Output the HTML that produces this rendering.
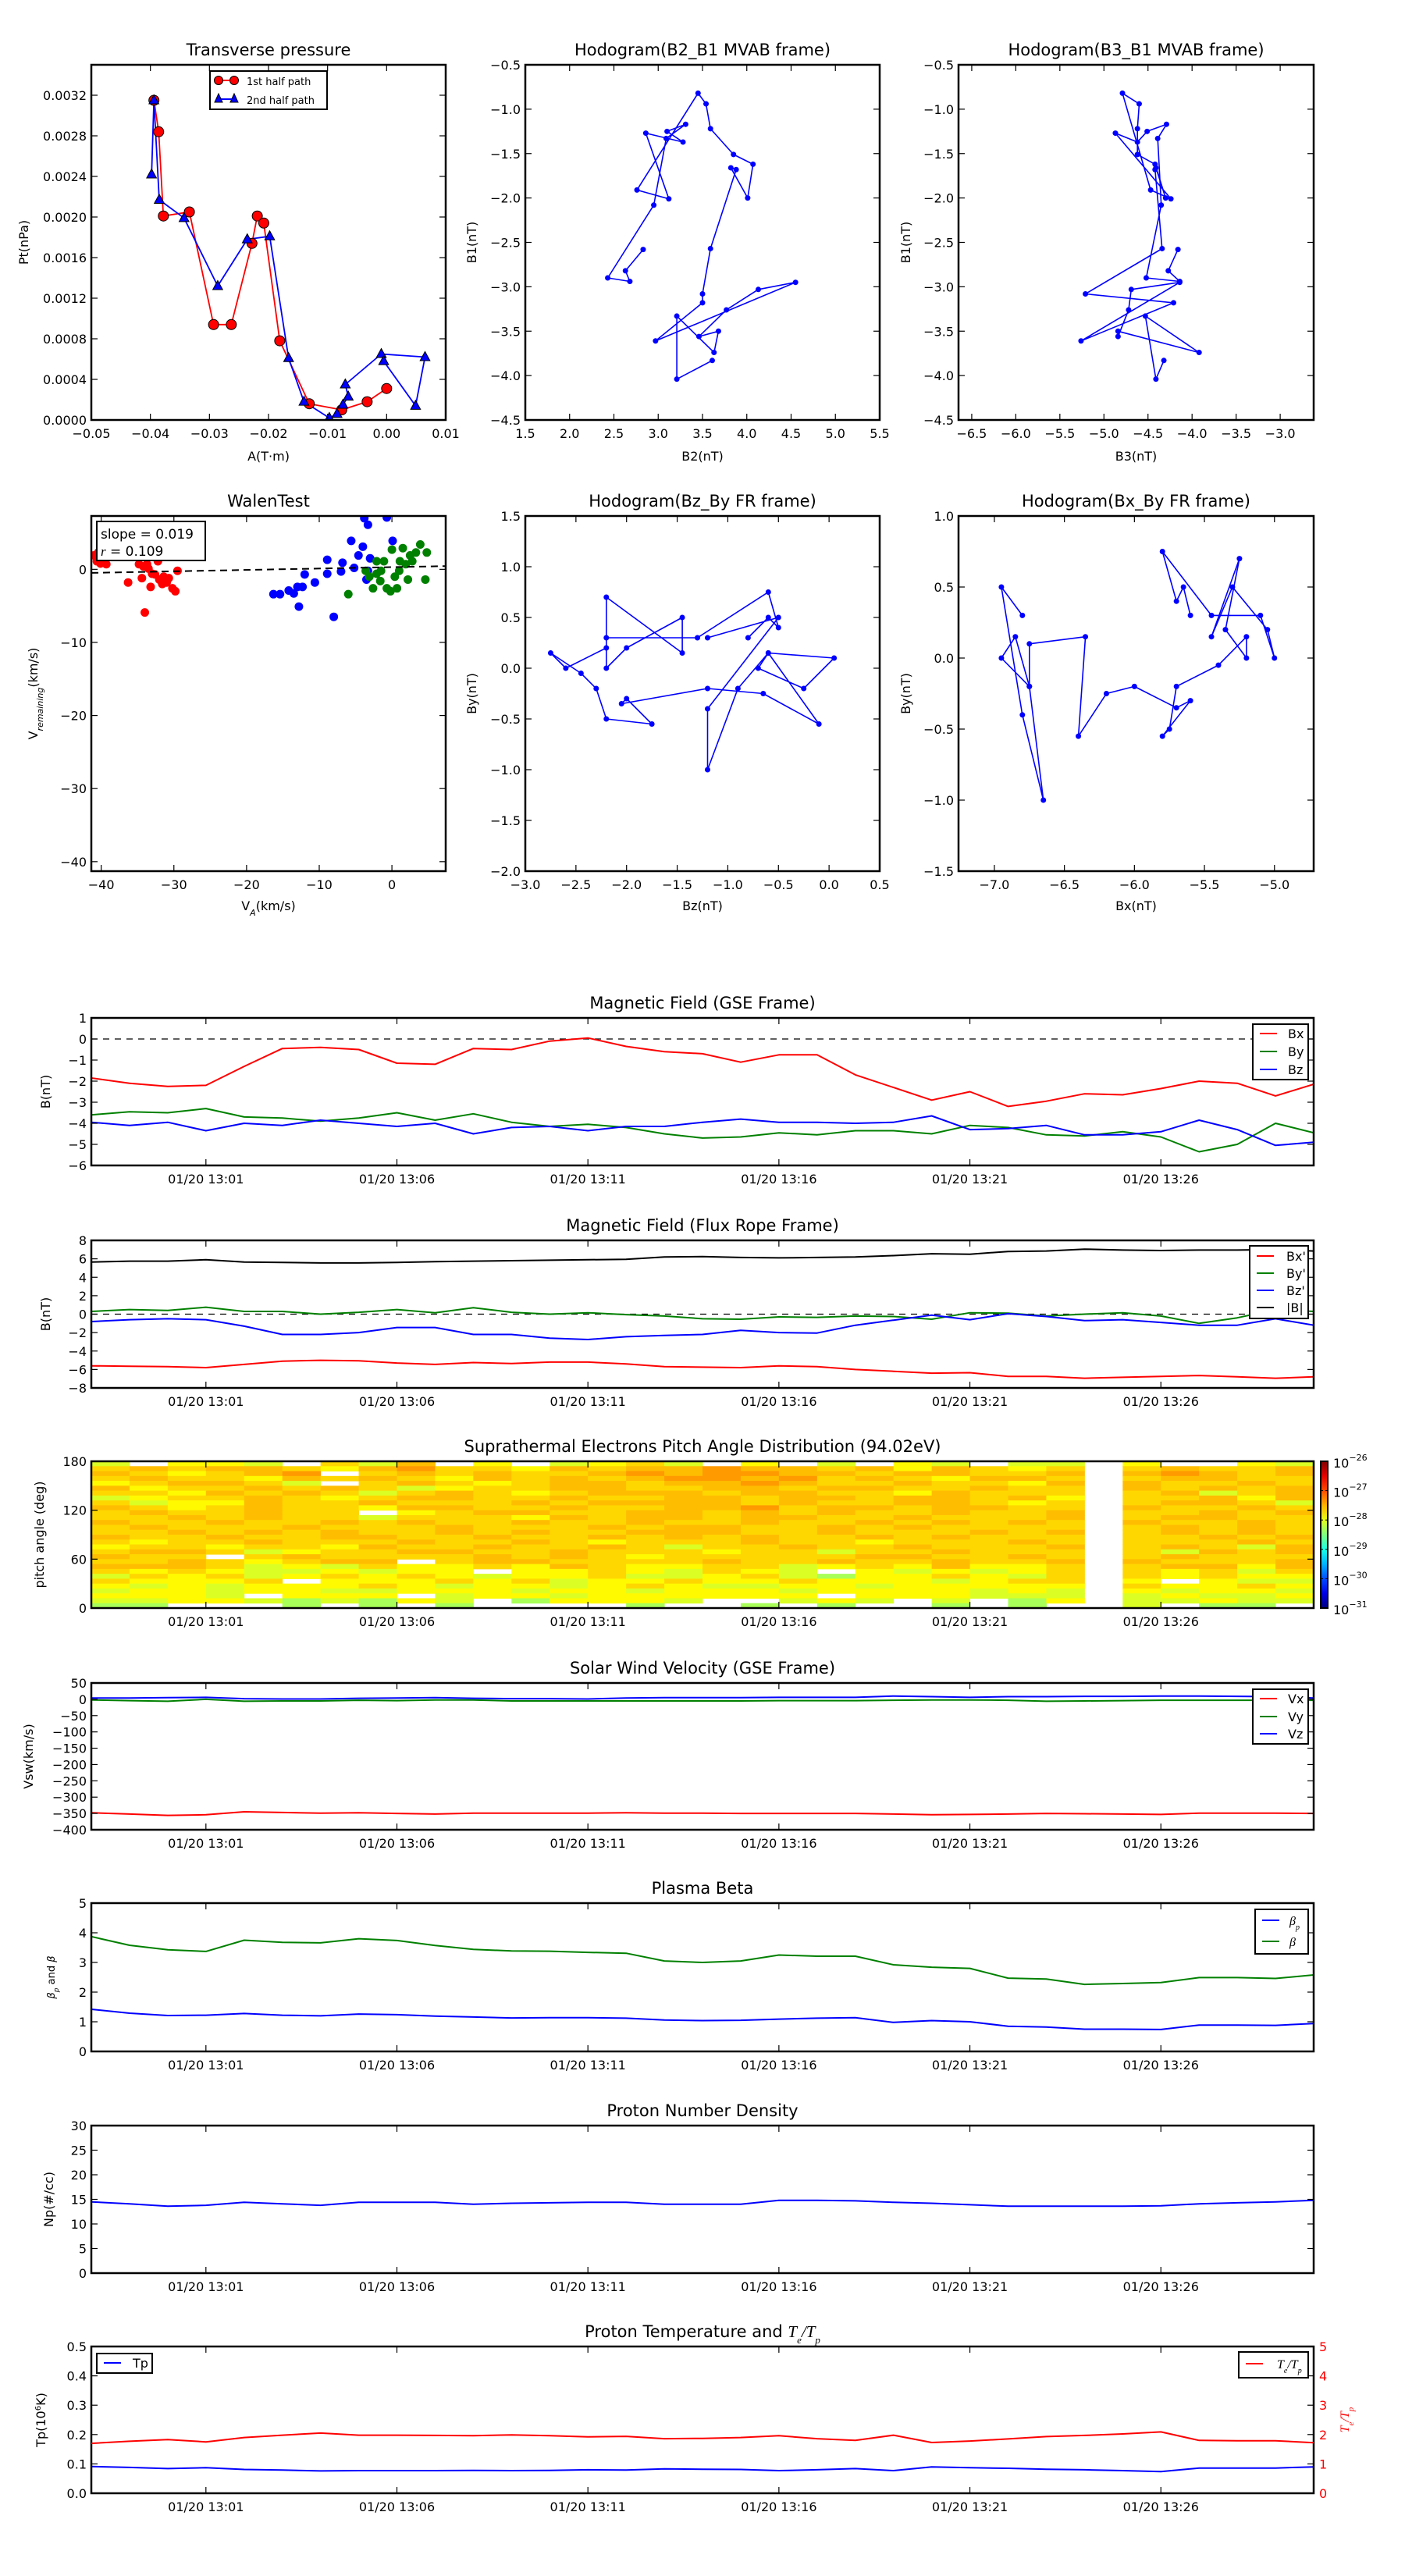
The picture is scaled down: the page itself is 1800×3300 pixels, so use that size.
<!DOCTYPE html>
<html><head><meta charset="utf-8">
<style>body{margin:0;background:#fff}svg{display:block;font-family:"DejaVu Sans","Liberation Sans",sans-serif}</style>
</head><body>
<svg id="fig" width="1800" height="3300" viewBox="0 0 1800 3300"><rect width="1800" height="3300" fill="#fff"/></svg>
<script>
// ---------- DATA ----------
const ptRedA=[-0.0394,-0.0386,-0.0378,-0.0334,-0.0293,-0.0263,-0.0228,-0.0219,-0.0208,-0.0181,-0.0131,-0.0076,-0.0033,0.0000];
const ptRedP=[0.00315,0.00284,0.00201,0.00205,0.00094,0.00094,0.00174,0.00201,0.00194,0.00078,0.00016,0.00010,0.00018,0.00031];
const ptBlueA=[-0.0398,-0.0394,-0.0385,-0.0343,-0.0286,-0.0236,-0.0198,-0.0166,-0.0140,-0.0097,-0.0084,-0.0074,-0.0065,-0.0070,-0.0009,0.0065,0.0049,-0.0005];
const ptBlueP=[0.00242,0.00315,0.00217,0.00199,0.00132,0.00178,0.00181,0.00061,0.00018,0.00002,0.00006,0.00015,0.00023,0.00035,0.00065,0.00062,0.00014,0.00058];
const mvB1=[-2.58,-2.82,-2.94,-2.90,-2.08,-1.33,-1.17,-1.25,-1.37,-1.27,-2.01,-1.91,-0.82,-0.94,-1.22,-1.51,-1.62,-2.00,-1.66,-1.68,-2.57,-3.08,-3.18,-3.61,-2.95,-3.03,-3.26,-3.56,-3.50,-3.74,-3.33,-4.04,-3.83];
const mvB2=[2.83,2.63,2.68,2.43,2.95,3.09,3.31,3.10,3.28,2.86,3.12,2.76,3.45,3.54,3.59,3.85,4.07,4.01,3.82,3.88,3.59,3.50,3.50,2.97,4.55,4.13,3.77,3.46,3.68,3.63,3.21,3.21,3.61];
const mvB3=[-4.16,-4.27,-4.14,-4.52,-4.35,-4.39,-4.29,-4.51,-4.62,-4.87,-4.24,-4.47,-4.79,-4.60,-4.62,-4.62,-4.42,-4.30,-4.41,-4.42,-4.34,-5.21,-4.21,-5.26,-4.14,-4.69,-4.72,-4.84,-4.84,-3.92,-4.53,-4.41,-4.32];
const walenRedX=[-41.0,-40.6,-40.4,-40.1,-39.3,-36.3,-34.8,-34.4,-34.2,-34.0,-33.7,-33.2,-33.0,-32.6,-32.2,-32.0,-31.6,-31.4,-31.0,-30.7,-30.2,-29.8,-29.5,-33.5];
const walenRedY=[1.9,1.1,2.3,0.8,0.7,-1.8,0.7,-1.2,0.4,-5.9,0.7,-2.4,-0.6,-0.7,1.1,-1.4,-2.0,-1.0,-1.8,-1.2,-2.6,-3.0,-0.2,0.1];
const walenBlueX=[-16.3,-15.4,-14.2,-13.5,-13.0,-12.8,-12.3,-12.0,-10.6,-8.9,-8.0,-7.0,-6.8,-5.6,-4.6,-4.0,-3.8,-3.3,-3.3,-3.0,-0.7,0.1,-8.9,-5.2,-3.5];
const walenBlueY=[-3.4,-3.4,-2.9,-3.3,-2.4,-5.1,-2.4,-0.7,-1.8,1.3,-6.5,-0.3,0.9,3.9,1.9,3.1,7.0,6.1,-0.2,1.5,7.1,3.9,-0.6,0.2,-1.4];
const walenGreenX=[-6.0,-3.6,-3.1,-2.6,-2.1,-1.6,-1.1,-0.7,-0.2,0.0,0.4,0.7,1.1,1.5,1.9,2.2,2.5,2.8,3.3,3.9,4.6,4.8,-2.1,1.0,-1.5];
const walenGreenY=[-3.4,-0.2,-1.0,-2.6,-0.6,-1.6,1.1,-2.6,-3.0,2.7,-1.0,-2.6,1.1,2.9,0.7,-1.4,1.9,1.1,2.3,3.4,-1.4,2.3,1.1,-0.2,-0.2];
const walenSlope=0.019, walenIntercept=0.3;
const timeLabels=["12:58","12:59","13:00","13:01","13:02","13:03","13:04","13:05","13:06","13:07","13:08","13:09","13:10","13:11","13:12","13:13","13:14","13:15","13:16","13:17","13:18","13:19","13:20","13:21","13:22","13:23","13:24","13:25","13:26","13:27","13:28","13:29","13:30"];
const timeTickLabels=["01/20 13:01","01/20 13:06","01/20 13:11","01/20 13:16","01/20 13:21","01/20 13:26"];
const gseBx=[-1.85,-2.1,-2.25,-2.2,-1.3,-0.45,-0.4,-0.5,-1.15,-1.2,-0.45,-0.5,-0.1,0.05,-0.35,-0.6,-0.7,-1.1,-0.75,-0.75,-1.7,-2.3,-2.9,-2.5,-3.2,-2.95,-2.6,-2.65,-2.35,-2.0,-2.1,-2.7,-2.15];
const gseBy=[-3.6,-3.45,-3.5,-3.3,-3.7,-3.75,-3.9,-3.75,-3.5,-3.85,-3.55,-3.95,-4.15,-4.05,-4.2,-4.5,-4.7,-4.65,-4.45,-4.55,-4.35,-4.35,-4.5,-4.1,-4.2,-4.55,-4.6,-4.4,-4.65,-5.35,-5.0,-4.0,-4.45];
const gseBz=[-3.95,-4.1,-3.95,-4.35,-4.0,-4.1,-3.85,-4.0,-4.15,-4.0,-4.5,-4.2,-4.15,-4.35,-4.15,-4.15,-3.95,-3.8,-3.95,-3.95,-4.0,-3.95,-3.65,-4.3,-4.25,-4.1,-4.55,-4.55,-4.4,-3.85,-4.3,-5.05,-4.9];
const frBx=[-5.6,-5.65,-5.7,-5.8,-5.45,-5.1,-5.0,-5.05,-5.3,-5.45,-5.25,-5.35,-5.2,-5.2,-5.4,-5.7,-5.75,-5.8,-5.6,-5.7,-6.0,-6.2,-6.4,-6.35,-6.75,-6.75,-6.95,-6.85,-6.75,-6.65,-6.8,-6.95,-6.8];
const frBy=[0.3,0.5,0.4,0.75,0.3,0.3,0.0,0.2,0.5,0.15,0.7,0.2,0.0,0.15,-0.05,-0.2,-0.5,-0.55,-0.3,-0.35,-0.2,-0.25,-0.55,0.15,0.1,-0.2,0.0,0.15,-0.2,-1.0,-0.4,0.5,0.3];
const frBz=[-0.8,-0.6,-0.5,-0.6,-1.3,-2.2,-2.2,-2.0,-1.45,-1.45,-2.2,-2.2,-2.6,-2.75,-2.45,-2.3,-2.2,-1.75,-2.0,-2.05,-1.2,-0.65,-0.1,-0.6,0.05,-0.25,-0.7,-0.6,-0.9,-1.2,-1.2,-0.5,-1.2];
const frBt=[5.65,5.75,5.75,5.9,5.65,5.6,5.55,5.55,5.6,5.7,5.75,5.8,5.85,5.9,5.95,6.2,6.25,6.15,6.1,6.15,6.2,6.35,6.55,6.5,6.8,6.85,7.05,6.95,6.9,6.95,6.95,7.0,6.85];
const padLevels={A:-27.38,B:-27.55,C:-27.68,D:-27.85,E:-28.05,F:-28.3};
const padRows=[ // top (174-180 deg) to bottom (0-6 deg), 32 one-minute columns
"E.DDE.CE B.D.EDCE .D.E.DE. EE.D..DE",
"CBCBBCDB ACCDBCBB ABBCBDBC DC.CBCCB",
"BCDCBA.C BCBCCBAB AABBCBBC CB.BABCB",
"CBCCDBCB CDBCBCBA ABACBCDB BC.CBBCC",
"DCBBCE.C BCDCBBCB BABCCBCC DB.BCCBC",
"BDCCBCBC EDCCBBCC BBCBBCCB CC.BCBCB",
"CCDBCBCE CBCDCBBB CBBCCDBC CC.CBECB",
"EDCCBCDC BBCCBCCB BCBBCBBC BD.CCBDB",
"CEDDBCCB CCCBCBBB BCBCCBBC DC.CBBCE",
"BCDCBCCD BBCCBCCB BACBBCBB CC.BCCBC",
"CBCCBCC. DCBBCCBB CBCBCCBC CB.CCBCB",
"CCBCBCCE CCCDBCBB CBBCCBCC CB.CBBCC",
"BCCBCCBC BCCBCCBC CBCCBCBC BC.BCCBC",
"CBCCCBCC CBCCCBCB BCCBCBCC CC.CBCBC",
"CCBCBCBC CBCBCCBB BCCBCCCB CB.CBCBC",
"BCCBCCBB CCBCCBCB CBCCBCBC CC.CCBCB",
"CDCCBCCC BCCBCDCC CBCCDCCC BC.CCCBC",
"DCCDCCDB CCBCCBCE CCBCCBCC CB.CBCEB",
"CBBCEDCC BBCCBCCC DCCECCBC CC.CEBCB",
"BCC.CBCC CCBCBCDC CCCCBBCC BC.CBCCC",
"CCBCDCBB .CBBCCCC BCCBCCBC CB.BCCCB",
"BBBCEDEC DDCDBCDD CCEDCDBD DC.CBBDB",
"CDCDEEDE DD.DDCDE CDE.DEDE DC.CDCEC",
"ECDCEDCD CDEDDCEE DCEFDDCD EC.CDCDD",
"CDDDC.DD DCDCEDDC DDCDDDED CC.D.DEE",
"DEDEDDDC DEDDEDCD EEDDEDDD DD.CDDCD",
"EDDEDDEE DDDEDDED DDEDDDDE DE.DEDDE",
"DDDE.DDD .EDDEDDD DDD.DDDE EE.EDEED",
"EEDDEFEF DE.FDDDE ..EDE.E. FD.EEDEE",
"FF...F.F .F....F. .F.F..F. F..E.FF."];
const vswVx=[-348,-352,-356,-354,-345,-347,-349,-348,-350,-352,-349,-349,-349,-349,-348,-349,-349,-350,-350,-350,-350,-352,-354,-353,-352,-350,-351,-352,-353,-349,-349,-349,-350];
const vswVy=[-2,-4,-6,0,-6,-5,-5,-3,-4,-2,-2,-5,-5,-5,-5,-5,-5,-5,-4,-4,-4,-3,-2,-2,-3,-6,-5,-4,-3,-3,-3,-3,-3];
const vswVz=[4,4,5,6,2,1,1,3,4,5,3,2,2,1,4,5,5,5,6,6,6,10,8,6,8,8,9,9,10,10,9,8,4];
const betaTotal=[3.87,3.58,3.43,3.37,3.75,3.68,3.66,3.80,3.74,3.57,3.44,3.39,3.38,3.34,3.31,3.05,3.00,3.05,3.25,3.21,3.21,2.92,2.84,2.80,2.47,2.44,2.26,2.29,2.32,2.49,2.49,2.46,2.58];
const betaP=[1.42,1.29,1.21,1.22,1.28,1.22,1.20,1.26,1.24,1.19,1.16,1.13,1.14,1.14,1.12,1.06,1.04,1.05,1.09,1.12,1.14,0.98,1.04,1.00,0.85,0.82,0.75,0.75,0.74,0.89,0.89,0.88,0.94];
const npDensity=[14.5,14.1,13.6,13.8,14.4,14.1,13.8,14.4,14.4,14.4,14.0,14.2,14.3,14.4,14.4,14.0,14.0,14.0,14.8,14.8,14.7,14.4,14.2,13.9,13.6,13.6,13.6,13.6,13.7,14.1,14.3,14.5,14.8];
const tpTemp=[0.091,0.088,0.084,0.087,0.081,0.079,0.076,0.077,0.077,0.077,0.078,0.077,0.078,0.080,0.079,0.083,0.082,0.081,0.077,0.080,0.084,0.077,0.090,0.087,0.085,0.082,0.080,0.077,0.074,0.086,0.086,0.086,0.090];
const teTpRatio=[1.70,1.77,1.83,1.75,1.90,1.98,2.05,1.98,1.98,1.97,1.96,1.99,1.96,1.92,1.94,1.86,1.87,1.90,1.96,1.86,1.80,1.98,1.73,1.78,1.85,1.93,1.97,2.02,2.09,1.80,1.79,1.79,1.72];

// ---------- HELPERS ----------
const NS='http://www.w3.org/2000/svg';
const svg=document.getElementById('fig');
function mk(tag,attrs,parent,name){
  const e=document.createElementNS(NS,tag);
  for(const k in attrs) e.setAttribute(k,attrs[k]);
  
  
  (parent||svg).appendChild(e);
  return e;
}
let clipN=0;
function makeAxes(name,x0,y0,x1,y1,xd,yd){
  const g=mk('g',{},svg,name);
  const id='clip'+(clipN++);
  const cp=mk('clipPath',{id:id},g,name+'-clip');
  mk('rect',{x:x0,y:y0,width:x1-x0,height:y1-y0},cp,name+'-clip-rect');
  const plot=mk('g',{'clip-path':'url(#'+id+')'},g,name+'-plot-area');
  return {g,plot,x0,y0,x1,y1,name,
    sx:v=>x0+(v-xd[0])/(xd[1]-xd[0])*(x1-x0),
    sy:v=>y1-(v-yd[0])/(yd[1]-yd[0])*(y1-y0)};
}
function frame(a){mk('rect',{x:a.x0,y:a.y0,width:a.x1-a.x0,height:a.y1-a.y0,fill:'none',stroke:'#000','stroke-width':2.5},a.g,a.name+'-frame');}
function xTicks(a,vals,labels){
  vals.forEach((v,i)=>{const x=a.sx(v);
    mk('line',{x1:x,x2:x,y1:a.y1,y2:a.y1-8,stroke:'#000','stroke-width':1.2},a.g,'x-tick');
    mk('line',{x1:x,x2:x,y1:a.y0,y2:a.y0+8,stroke:'#000','stroke-width':1.2},a.g,'x-tick-top');
    const t=mk('text',{x:x,y:a.y1+23,'text-anchor':'middle','font-size':16},a.g,'x-tick-label');
    t.textContent=labels[i];});
}
function yTicks(a,vals,labels,side,color){
  vals.forEach((v,i)=>{const y=a.sy(v);
    if(side!=='right'){mk('line',{x1:a.x0,x2:a.x0+8,y1:y,y2:y,stroke:'#000','stroke-width':1.2},a.g,'y-tick');}
    if(side!=='left'){mk('line',{x1:a.x1,x2:a.x1-8,y1:y,y2:y,stroke:'#000','stroke-width':1.2},a.g,'y-tick-right');}
    if(labels){
      const t=side==='right'?mk('text',{x:a.x1+7,y:y+6,'text-anchor':'start','font-size':16,fill:color||'#000'},a.g,'y-tick-label-right')
                           :mk('text',{x:a.x0-6,y:y+6,'text-anchor':'end','font-size':16},a.g,'y-tick-label');
      t.textContent=labels[i];}
  });
}
function title(a,txt){const t=mk('text',{x:(a.x0+a.x1)/2,y:a.y0-12,'text-anchor':'middle','font-size':21},a.g,'title');t.textContent=txt;return t;}
function xlabel(a,txt,y){const t=mk('text',{x:(a.x0+a.x1)/2,y:y,'text-anchor':'middle','font-size':16},a.g,'x-axis-title');t.textContent=txt;return t;}
function ylabel(a,txt,x,color){const cy=(a.y0+a.y1)/2;const t=mk('text',{transform:'translate('+x+','+cy+') rotate(-90)','text-anchor':'middle','font-size':16,fill:color||'#000'},a.g,'y-axis-title');t.textContent=txt;return t;}
function line(a,xs,ys,color,name,w){
  const pts=xs.map((x,i)=>a.sx(x).toFixed(1)+','+a.sy(ys[i]).toFixed(1)).join(' ');
  return mk('polyline',{points:pts,fill:'none',stroke:color,'stroke-width':w||2,'stroke-linejoin':'round'},a.plot,name);
}
function dots(a,xs,ys,color,r,name,edge){
  xs.forEach((x,i)=>{mk('circle',{cx:a.sx(x),cy:a.sy(ys[i]),r:r,fill:color,stroke:edge||'none','stroke-width':1},a.plot,name);});
}
function tris(a,xs,ys,color,s,name){
  xs.forEach((x,i)=>{const cx=a.sx(x),cy=a.sy(ys[i]);
    mk('polygon',{points:`${cx},${cy-s} ${cx-s*0.9},${cy+s*0.65} ${cx+s*0.9},${cy+s*0.65}`,fill:color,stroke:'#000','stroke-width':1},a.plot,name);});
}
function hline(a,v,name){mk('line',{x1:a.x0,x2:a.x1,y1:a.sy(v),y2:a.sy(v),stroke:'#000','stroke-width':1.3,'stroke-dasharray':'8,7'},a.plot,name);}
function legend(parent,x0,y0,x1,y1,items,name){
  const g=mk('g',{},parent,name);
  mk('rect',{x:x0,y:y0,width:x1-x0,height:y1-y0,fill:'#fff',stroke:'#000','stroke-width':2},g,name+'-box');
  items.forEach(it=>{
    mk('line',{x1:it.lx1,x2:it.lx2,y1:it.y,y2:it.y,stroke:it.c,'stroke-width':2},g,'legend-line');
    const t=mk('text',{x:it.tx,y:it.y+6,'font-size':it.fs||16},g,'legend-entry');
    if(it.html){t.innerHTML=it.html;}else{t.textContent=it.t;}
  });
  return g;
}
const minutes=timeLabels.map(s=>{const p=s.split(':');return (+p[0])*60+(+p[1])-(12*60+58);});
const tickMins=timeTickLabels.map(s=>{const p=s.split(' ')[1].split(':');return (+p[0])*60+(+p[1])-(12*60+58);});
const rng=(a,b,s)=>{const r=[];for(let v=a;v<=b+1e-9;v+=s)r.push(+v.toFixed(6));return r;};
const fmt=(v,d)=>(v<0?'\u2212':'')+Math.abs(v).toFixed(d);

// ---------- TOP ROW ----------
let a=makeAxes('transverse-pressure-chart',117,83,571,538,[-0.05,0.01],[0,0.0035]);
line(a,ptRedA,ptRedP,'#ff0000','first-half-path-line',1.8);
line(a,ptBlueA,ptBlueP,'#0000ff','second-half-path-line',1.8);
dots(a,ptRedA,ptRedP,'#ff0000',6.5,'first-half-point','#000');
tris(a,ptBlueA,ptBlueP,'#0000ff',7,'second-half-point');
frame(a);
xTicks(a,rng(-0.05,0.01,0.01),rng(-0.05,0.01,0.01).map(v=>fmt(v,2)));
yTicks(a,rng(0,0.0032,0.0004),rng(0,0.0032,0.0004).map(v=>fmt(v,4)));
title(a,'Transverse pressure');xlabel(a,'A(T\u00b7m)',590);ylabel(a,'Pt(nPa)',36);
{const lg=legend(a.g,269,91,419,140,[{lx1:280,lx2:300,y:103,c:'#ff0000',tx:316,t:'1st half path',fs:13},{lx1:280,lx2:300,y:127,c:'#0000ff',tx:316,t:'2nd half path',fs:13}],'pressure-legend');
 mk('circle',{cx:280,cy:103,r:5.5,fill:'#f00',stroke:'#000'},lg,'legend-marker');
 mk('circle',{cx:300,cy:103,r:5.5,fill:'#f00',stroke:'#000'},lg,'legend-marker');
 mk('polygon',{points:'280,120 275,131 285,131',fill:'#00f',stroke:'#000'},lg,'legend-marker');
 mk('polygon',{points:'300,120 295,131 305,131',fill:'#00f',stroke:'#000'},lg,'legend-marker');}

a=makeAxes('hodogram-b2-b1-chart',673,83,1127,538,[1.5,5.5],[-4.5,-0.5]);
line(a,mvB2,mvB1,'#0000ff','b2-b1-path',1.6);dots(a,mvB2,mvB1,'#0000ff',3.5,'b2-b1-point');frame(a);
xTicks(a,rng(1.5,5.5,0.5),rng(1.5,5.5,0.5).map(v=>fmt(v,1)));
yTicks(a,rng(-4.5,-0.5,0.5),rng(-4.5,-0.5,0.5).map(v=>fmt(v,1)));
title(a,'Hodogram(B2_B1 MVAB frame)');xlabel(a,'B2(nT)',590);ylabel(a,'B1(nT)',610);

a=makeAxes('hodogram-b3-b1-chart',1228,83,1683,538,[-6.65,-2.62],[-4.5,-0.5]);
line(a,mvB3,mvB1,'#0000ff','b3-b1-path',1.6);dots(a,mvB3,mvB1,'#0000ff',3.5,'b3-b1-point');frame(a);
xTicks(a,rng(-6.5,-3.0,0.5),rng(-6.5,-3.0,0.5).map(v=>fmt(v,1)));
yTicks(a,rng(-4.5,-0.5,0.5),rng(-4.5,-0.5,0.5).map(v=>fmt(v,1)));
title(a,'Hodogram(B3_B1 MVAB frame)');xlabel(a,'B3(nT)',590);ylabel(a,'B1(nT)',1166);

// ---------- SECOND ROW ----------
a=makeAxes('walen-test-chart',117,661,571,1116,[-41.36,7.4],[-41.3,7.3]);
dots(a,walenRedX,walenRedY,'#ff0000',5.5,'walen-red-point');
dots(a,walenBlueX,walenBlueY,'#0000ff',5.5,'walen-blue-point');
dots(a,walenGreenX,walenGreenY,'#008000',5.5,'walen-green-point');
mk('line',{x1:a.sx(-41.36),x2:a.sx(7.4),y1:a.sy(walenSlope*-41.36+walenIntercept),y2:a.sy(walenSlope*7.4+walenIntercept),stroke:'#000','stroke-width':2,'stroke-dasharray':'9,6'},a.plot,'walen-fit-line');
frame(a);
xTicks(a,rng(-40,0,10),rng(-40,0,10).map(v=>fmt(v,0)));
yTicks(a,rng(-40,0,10),rng(-40,0,10).map(v=>fmt(v,0)));
title(a,'WalenTest');
{const t=xlabel(a,'',1166);t.innerHTML='V<tspan font-size="11" baseline-shift="sub" font-style="italic">A</tspan>(km/s)';
 const y=ylabel(a,'',48);y.innerHTML='V<tspan font-size="11" baseline-shift="sub" font-style="italic">remaining</tspan>(km/s)';
 mk('rect',{x:124,y:668,width:139,height:50,fill:'#fff',stroke:'#000','stroke-width':2},a.g,'walen-stats-box');
 const t1=mk('text',{x:129,y:690,'font-size':17},a.g,'slope-text');t1.textContent='slope = 0.019';
 const t2=mk('text',{x:129,y:712,'font-size':17},a.g,'r-text');t2.innerHTML='<tspan font-style="italic" font-family="Liberation Serif">r</tspan> = 0.109';}

a=makeAxes('hodogram-bz-by-chart',673,661,1127,1116,[-3,0.5],[-2,1.5]);
line(a,frBz,frBy,'#0000ff','bz-by-path',1.6);dots(a,frBz,frBy,'#0000ff',3.5,'bz-by-point');frame(a);
xTicks(a,rng(-3,0.5,0.5),rng(-3,0.5,0.5).map(v=>fmt(v,1)));
yTicks(a,rng(-2,1.5,0.5),rng(-2,1.5,0.5).map(v=>fmt(v,1)));
title(a,'Hodogram(Bz_By FR frame)');xlabel(a,'Bz(nT)',1166);ylabel(a,'By(nT)',610);

a=makeAxes('hodogram-bx-by-chart',1228,661,1683,1116,[-7.256,-4.72],[-1.5,1.0]);
line(a,frBx,frBy,'#0000ff','bx-by-path',1.6);dots(a,frBx,frBy,'#0000ff',3.5,'bx-by-point');frame(a);
xTicks(a,rng(-7,-5,0.5),rng(-7,-5,0.5).map(v=>fmt(v,1)));
yTicks(a,rng(-1.5,1.0,0.5),rng(-1.5,1.0,0.5).map(v=>fmt(v,1)));
title(a,'Hodogram(Bx_By FR frame)');xlabel(a,'Bx(nT)',1166);ylabel(a,'By(nT)',1166);

// ---------- TIME SERIES ----------
const TX0=117,TX1=1683;
function timeAxes(name,y0,y1,yd,x1){return makeAxes(name,TX0,y0,x1||TX1,y1,[0,32],yd);}

a=timeAxes('magnetic-field-gse-chart',1304,1493,[-6,1]);
hline(a,0,'zero-line');
line(a,minutes,gseBx,'#ff0000','gse-bx-line');line(a,minutes,gseBy,'#008000','gse-by-line');line(a,minutes,gseBz,'#0000ff','gse-bz-line');
frame(a);xTicks(a,tickMins,timeTickLabels);yTicks(a,rng(-6,1,1),rng(-6,1,1).map(v=>fmt(v,0)));
title(a,'Magnetic Field (GSE Frame)');ylabel(a,'B(nT)',64);
legend(a.g,1605,1312,1676,1383,[{lx1:1614,lx2:1636,y:1324,c:'#f00',tx:1650,t:'Bx'},{lx1:1614,lx2:1636,y:1347,c:'#008000',tx:1650,t:'By'},{lx1:1614,lx2:1636,y:1370,c:'#00f',tx:1650,t:'Bz'}],'gse-legend');

a=timeAxes('magnetic-field-flux-rope-chart',1589,1778,[-8,8]);
hline(a,0,'zero-line');
line(a,minutes,frBx,'#ff0000','fr-bx-line');line(a,minutes,frBy,'#008000','fr-by-line');line(a,minutes,frBz,'#0000ff','fr-bz-line');line(a,minutes,frBt,'#000000','fr-bt-line');
frame(a);xTicks(a,tickMins,timeTickLabels);yTicks(a,rng(-8,8,2),rng(-8,8,2).map(v=>fmt(v,0)));
title(a,'Magnetic Field (Flux Rope Frame)');ylabel(a,'B(nT)',64);
legend(a.g,1601,1596,1676,1689,[{lx1:1610,lx2:1632,y:1609,c:'#f00',tx:1648,t:"Bx'"},{lx1:1610,lx2:1632,y:1631,c:'#008000',tx:1648,t:"By'"},{lx1:1610,lx2:1632,y:1653,c:'#00f',tx:1648,t:"Bz'"},{lx1:1610,lx2:1632,y:1675,c:'#000',tx:1648,t:'|B|'}],'fr-legend');

// PAD heatmap
function jet(v){const t=(v+31)/5;const c=x=>Math.round(255*Math.max(0,Math.min(1,x)));return 'rgb('+c(1.5-Math.abs(4*t-3))+','+c(1.5-Math.abs(4*t-2))+','+c(1.5-Math.abs(4*t-1))+')';}
a=timeAxes('pitch-angle-distribution-chart',1872,2060,[0,180],1683);
{const nRows=padRows.length;const dA=180/nRows;
 padRows.forEach((row,ri)=>{const cells=row.replace(/ /g,'');
   for(let ci=0;ci<cells.length;ci++){const ch=cells[ci];if(ch==='.')continue;
     const v=padLevels[ch];const t0=minutes[ci],t1=minutes[ci+1];const pa1=180-ri*dA,pa0=pa1-dA;
     mk('rect',{x:a.sx(t0),y:a.sy(pa1),width:a.sx(t1)-a.sx(t0)+0.5,height:a.sy(pa0)-a.sy(pa1)+0.5,fill:jet(v)},a.plot,'pad-cell');}});}
frame(a);xTicks(a,tickMins,timeTickLabels);yTicks(a,[0,60,120,180],['0','60','120','180']);
title(a,'Suprathermal Electrons Pitch Angle Distribution (94.02eV)');ylabel(a,'pitch angle (deg)',56);
{const g=mk('g',{},svg,'colorbar');
 const gr=mk('linearGradient',{id:'jetgrad',x1:0,y1:1,x2:0,y2:0},g,'colorbar-gradient');
 for(let k=0;k<=10;k++){mk('stop',{offset:k/10,'stop-color':jet(-31+k*0.5)},gr,'gradient-stop');}
 mk('rect',{x:1692,y:1872,width:9,height:188,fill:'url(#jetgrad)',stroke:'#000','stroke-width':2},g,'colorbar-bar');
 const decades=[-26,-27,-28,-29,-30,-31];
 decades.forEach(d=>{const y=1872+(-26-d)/5*188;
   mk('line',{x1:1692,x2:1695,y1:y,y2:y,stroke:'#000'},g,'colorbar-tick');
   mk('line',{x1:1698,x2:1701,y1:y,y2:y,stroke:'#000'},g,'colorbar-tick');
   const t=mk('text',{x:1708,y:y+8,'font-size':16},g,'colorbar-label');
   t.innerHTML='10<tspan font-size="11" dy="-9">'+(d<0?'\u2212':'')+Math.abs(d)+'</tspan>';});}

a=timeAxes('solar-wind-velocity-chart',2156,2344,[-400,50]);
line(a,minutes,vswVx,'#ff0000','vx-line');line(a,minutes,vswVy,'#008000','vy-line');line(a,minutes,vswVz,'#0000ff','vz-line');
frame(a);xTicks(a,tickMins,timeTickLabels);yTicks(a,rng(-400,50,50),rng(-400,50,50).map(v=>fmt(v,0)));
title(a,'Solar Wind Velocity (GSE Frame)');ylabel(a,'Vsw(km/s)',42);
legend(a.g,1605,2164,1676,2234,[{lx1:1614,lx2:1636,y:2176,c:'#f00',tx:1650,t:'Vx'},{lx1:1614,lx2:1636,y:2199,c:'#008000',tx:1650,t:'Vy'},{lx1:1614,lx2:1636,y:2221,c:'#00f',tx:1650,t:'Vz'}],'vsw-legend');

a=timeAxes('plasma-beta-chart',2438,2628,[0,5]);
line(a,minutes,betaP,'#0000ff','beta-p-line');line(a,minutes,betaTotal,'#008000','beta-line');
frame(a);xTicks(a,tickMins,timeTickLabels);yTicks(a,rng(0,5,1),rng(0,5,1).map(v=>fmt(v,0)));
title(a,'Plasma Beta');
{const y=ylabel(a,'',70);y.setAttribute('font-size','13');y.innerHTML='<tspan font-style="italic">β<tspan font-size="9" baseline-shift="sub">p</tspan></tspan> and <tspan font-style="italic">β</tspan>';}
legend(a.g,1608,2446,1676,2503,[{lx1:1617,lx2:1639,y:2460,c:'#00f',tx:1652,html:'<tspan font-style="italic" font-family="Liberation Serif">β<tspan font-size="10" baseline-shift="sub">p</tspan></tspan>'},{lx1:1617,lx2:1639,y:2487,c:'#008000',tx:1652,html:'<tspan font-style="italic" font-family="Liberation Serif">β</tspan>'}],'beta-legend');

a=timeAxes('proton-density-chart',2723,2912,[0,30]);
line(a,minutes,npDensity,'#0000ff','np-line');
frame(a);xTicks(a,tickMins,timeTickLabels);yTicks(a,rng(0,30,5),rng(0,30,5).map(v=>fmt(v,0)));
title(a,'Proton Number Density');ylabel(a,'Np(#/cc)',68);

a=timeAxes('proton-temperature-chart',3006,3194,[0,0.5]);
line(a,minutes,tpTemp,'#0000ff','tp-line');
const ar=makeAxes('te-tp-axis',TX0,3006,TX1,3194,[0,32],[0,5]);
line(ar,minutes,teTpRatio,'#ff0000','te-tp-line');
frame(a);xTicks(a,tickMins,timeTickLabels);yTicks(a,rng(0,0.5,0.1),rng(0,0.5,0.1).map(v=>fmt(v,1)),'left');
yTicks(ar,rng(0,5,1),rng(0,5,1).map(v=>fmt(v,0)),'right','#ff0000');
{const t=title(a,'');t.innerHTML='Proton Temperature and <tspan font-family="Liberation Serif" font-style="italic">T<tspan font-size="13" baseline-shift="sub">e</tspan>/T<tspan font-size="13" baseline-shift="sub">p</tspan></tspan>';
 const y=ylabel(a,'',58);y.innerHTML='Tp(10<tspan font-size="10" dy="-6">6</tspan><tspan dy="6">K)</tspan>';
 const yr=ylabel(ar,'',1728,'#ff0000');yr.innerHTML='<tspan font-family="Liberation Serif" font-style="italic">T<tspan font-size="11" baseline-shift="sub">e</tspan>/T<tspan font-size="11" baseline-shift="sub">p</tspan></tspan>';}
legend(a.g,124,3015,195,3040,[{lx1:133,lx2:155,y:3027,c:'#00f',tx:170,t:'Tp'}],'tp-legend');
legend(ar.g,1587,3013,1676,3046,[{lx1:1596,lx2:1618,y:3028,c:'#f00',tx:1636,html:'<tspan font-family="Liberation Serif" font-style="italic">T<tspan font-size="10" baseline-shift="sub">e</tspan>/T<tspan font-size="10" baseline-shift="sub">p</tspan></tspan>'}],'te-tp-legend');
</script>
</body></html>
